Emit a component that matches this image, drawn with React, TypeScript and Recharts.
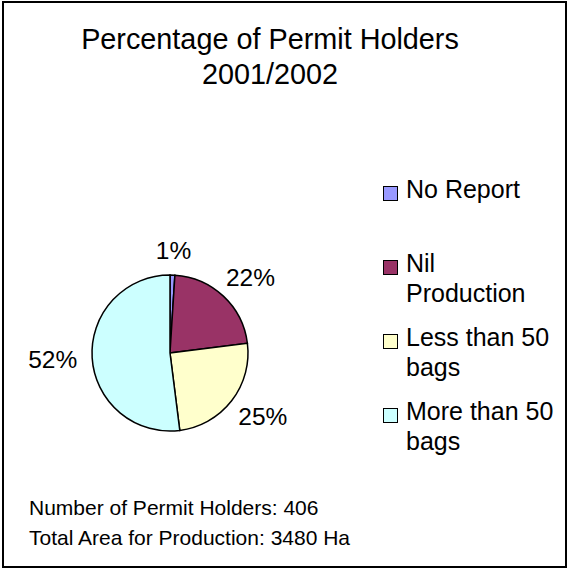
import React from "react";
import { PieChart, Pie, Cell, Legend } from "recharts";

const categories = ["No Report", "Nil Production", "Less than 50 bags", "More than 50 bags"];
const percentValues = [1, 22, 25, 52];
const sliceColors = ["#9999FF", "#993366", "#FFFFCC", "#CCFFFF"];
const titleLines = ["Percentage of Permit Holders", "2001/2002"];
const footerLines = ["Number of Permit Holders: 406", "Total Area for Production: 3480 Ha"];

const FONT = "'Liberation Sans', Arial, sans-serif";

const data = categories.map((name, i) => ({ name, value: percentValues[i], fill: sliceColors[i] }));

let ctx: CanvasRenderingContext2D | null = null;
function measure(text: string, size: number): number {
  if (!ctx && typeof document !== "undefined") {
    ctx = document.createElement("canvas").getContext("2d");
  }
  if (!ctx) return text.length * size * 0.55;
  ctx.font = `${size}px ${FONT}`;
  return ctx.measureText(text).width;
}

function wrap(text: string, size: number, maxWidth: number): string[] {
  const words = text.split(" ");
  const lines: string[] = [];
  let cur = "";
  for (const w of words) {
    const test = cur ? cur + " " + w : w;
    if (cur && measure(test, size) > maxWidth) {
      lines.push(cur);
      cur = w;
    } else {
      cur = test;
    }
  }
  if (cur) lines.push(cur);
  return lines;
}

const RAD = Math.PI / 180;

const renderLabel = (props: any) => {
  const { cx, cy, midAngle, outerRadius, percent } = props;
  const text = `${Math.round(percent * 100)}%`;
  const size = 24.5;
  const w = measure(text, size);
  const h = 20;
  const cos = Math.cos(-midAngle * RAD);
  const sin = Math.sin(-midAngle * RAD);
  const r = outerRadius + 15;
  const x = cx + r * cos + (w / 2) * cos;
  const y = cy + r * sin + (h / 2) * sin;
  return (
    <text x={x} y={y + 8.5} textAnchor="middle" fontSize={size} fontFamily={FONT} fill="#000">
      {text}
    </text>
  );
};

const LegendContent = () => {
  const size = 25;
  return (
    <svg width={185} height={300} style={{ display: "block" }}>
      {data.map((p, i) => {
        const base = 28 + i * 74;
        const lines = wrap(p.name, size, 150);
        return (
          <g key={i}>
            <rect x={8.5} y={base - 11.5} width={14} height={14} fill={p.fill} stroke="#000" strokeWidth={1} />
            {lines.map((ln, j) => (
              <text key={j} x={31} y={base + j * 29.5} fontSize={size} fontFamily={FONT} fill="#000">
                {ln}
              </text>
            ))}
          </g>
        );
      })}
    </svg>
  );
};

export default function App() {
  return (
    <div style={{ position: "absolute", left: 0, top: 0, width: 567, height: 568, background: "#fff" }}>
      <div
        style={{
          position: "absolute",
          left: 2,
          top: 1,
          width: 561,
          height: 563,
          border: "2px solid #000",
          boxSizing: "content-box",
        }}
      />
      <div style={{ position: "absolute", left: 0, top: 0 }}>
        <PieChart width={567} height={568} margin={{ top: 0, right: 0, bottom: 0, left: 0 }}>
          <text x={270} y={49} textAnchor="middle" fontSize={28.8} fontFamily={FONT} fill="#000">
            {titleLines[0]}
          </text>
          <text x={270} y={84} textAnchor="middle" fontSize={28.8} fontFamily={FONT} fill="#000">
            {titleLines[1]}
          </text>
          {footerLines.map((t, i) => (
            <text key={i} x={29} y={515 + i * 29.5} fontSize={21} fontFamily={FONT} fill="#000">
              {t}
            </text>
          ))}
          <Pie
            data={data}
            dataKey="value"
            nameKey="name"
            cx={170}
            cy={353}
            outerRadius={78}
            startAngle={90}
            endAngle={-270}
            stroke="#000"
            strokeWidth={1.5}
            label={renderLabel}
            labelLine={false}
            isAnimationActive={false}
          >
            {data.map((d, i) => (
              <Cell key={i} fill={d.fill} />
            ))}
          </Pie>
          <Legend
            layout="vertical"
            align="right"
            verticalAlign="top"
            content={<LegendContent />}
            wrapperStyle={{ left: 375, top: 170, width: 185, right: "auto" }}
          />
        </PieChart>
      </div>
    </div>
  );
}
